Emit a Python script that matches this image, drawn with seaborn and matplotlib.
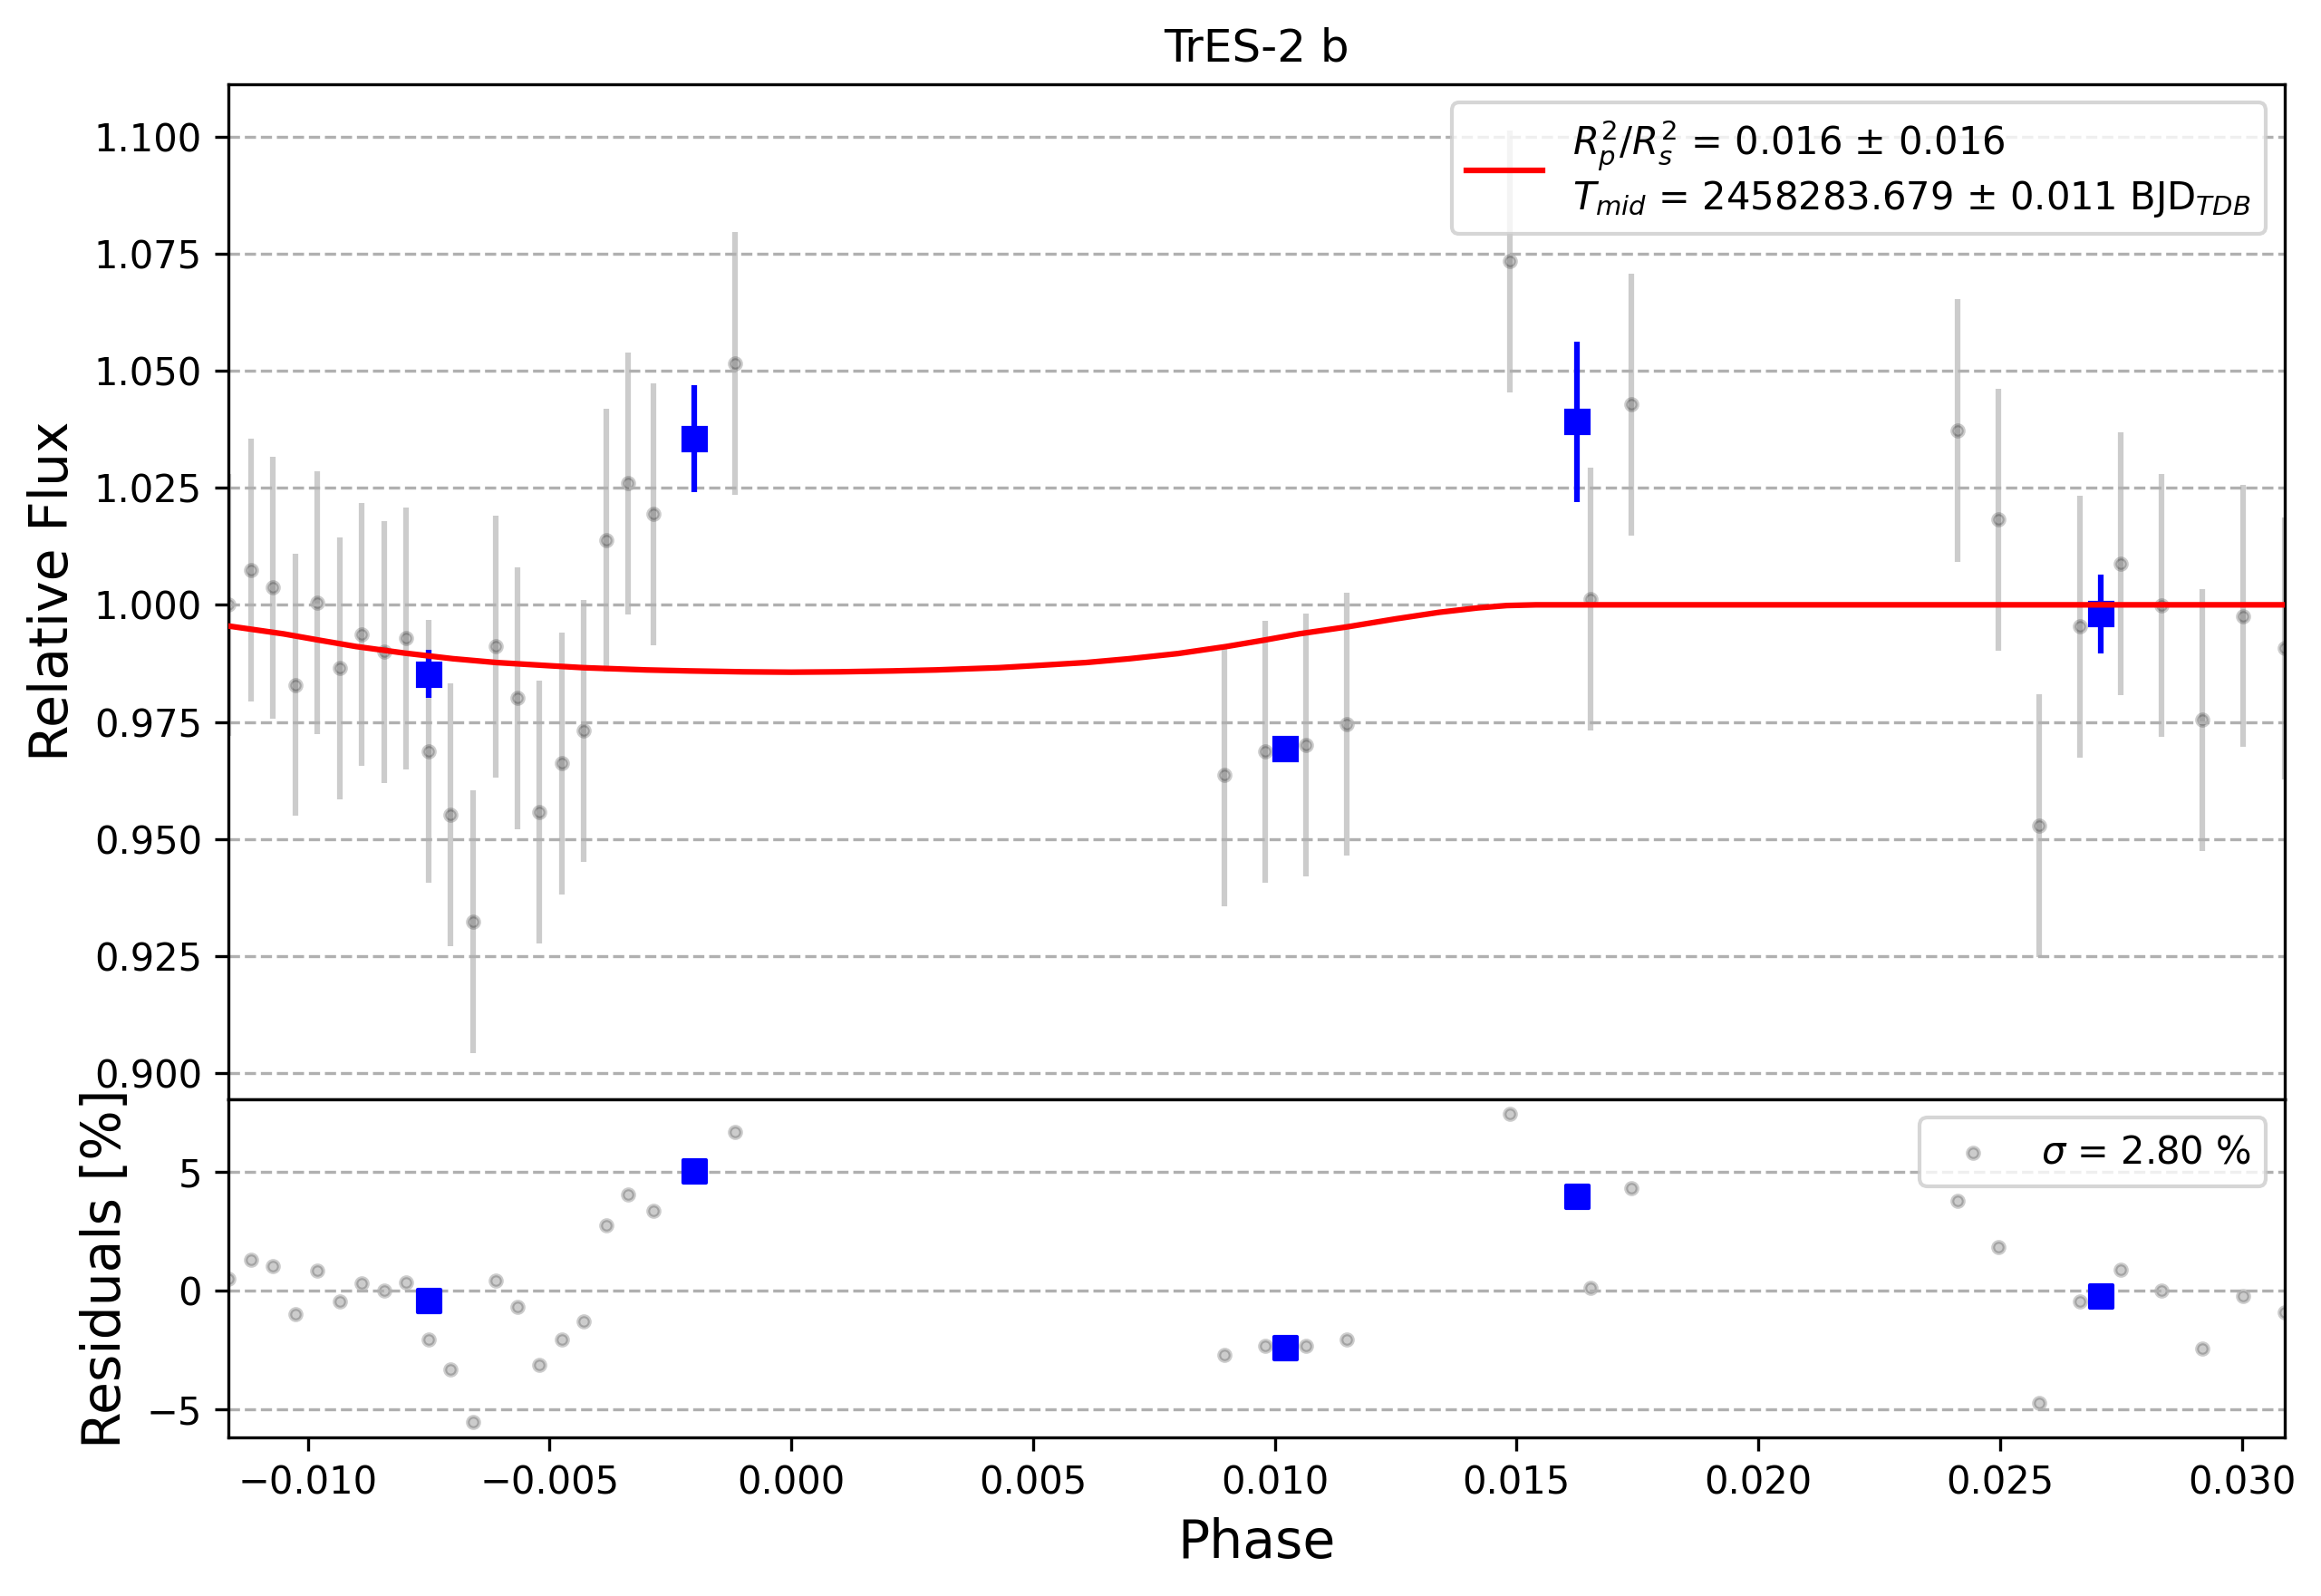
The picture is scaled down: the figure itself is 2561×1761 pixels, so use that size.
import matplotlib
matplotlib.use('Agg')
import matplotlib.pyplot as plt
import pandas as pd
import seaborn as sns

# unbinned light curve
phase = [-0.01164, -0.011175, -0.010731, -0.010262, -0.009812, -0.009344, -0.008888,
         -0.008425, -0.007969, -0.0075, -0.00705, -0.006581, -0.006113, -0.005668,
         -0.005213, -0.004749, -0.004294, -0.003831, -0.003375, -0.002856, -0.001162,
         0.008959, 0.009795, 0.010652, 0.01149, 0.014865, 0.016525, 0.017383,
         0.024128, 0.024973, 0.025819, 0.026659, 0.027505, 0.028345, 0.02919,
         0.030036, 0.03089]
flux = [1.0000, 1.00741, 1.00367, 0.98291, 1.00045, 0.98647, 0.99368,
        0.98995, 0.99285, 0.96874, 0.9552, 0.93233, 0.99111, 0.98008,
        0.95578, 0.96616, 0.97312, 1.01378, 1.02591, 1.01933, 1.05153,
        0.96365, 0.96864, 0.97011, 0.97457, 1.07332, 1.0012, 1.04277,
        1.03718, 1.01819, 0.95286, 0.99538, 1.00876, 0.99985, 0.97545,
        0.99762, 0.99072]
flux_err = [0.028, 0.028, 0.028, 0.028, 0.028, 0.028, 0.028,
            0.028, 0.028, 0.028, 0.028, 0.028, 0.028, 0.028,
            0.028, 0.028, 0.028, 0.028, 0.028, 0.028, 0.028,
            0.028, 0.028, 0.028, 0.028, 0.028, 0.028, 0.028,
            0.028, 0.028, 0.028, 0.028, 0.028, 0.028, 0.028,
            0.028, 0.028]
resid = [0.50, 1.29, 1.02, -1.00, 0.83, -0.47, 0.31,
         -0.01, 0.35, -2.05, -3.32, -5.53, 0.42, -0.70,
         -3.12, -2.05, -1.32, 2.75, 4.02, 3.36, 6.66,
         -2.72, -2.35, -2.35, -2.08, 7.41, 0.12, 4.30,
         3.75, 1.83, -4.73, -0.45, 0.88, -0.01, -2.46,
         -0.24, -0.91]

# binned points
bin_phase = [-0.0075, -0.002006, 0.010217, 0.016258, 0.027092]
bin_flux = [0.98523, 1.03542, 0.96928, 1.03906, 0.99805]
bin_err = [0.0051, 0.0114, 0.0020, 0.0171, 0.0085]
bin_resid = [-0.43, 5.01, -2.40, 3.95, -0.22]

# transit model
model_phase = [-0.01164, -0.0105, -0.0098, -0.0090, -0.0080, -0.0070, -0.0061,
               -0.0050, -0.0043, -0.0030, -0.0021, -0.0010, 0.0, 0.0010, 0.0021,
               0.0030, 0.0043, 0.0050, 0.0061, 0.0070, 0.0080, 0.0090, 0.0098,
               0.0105, 0.0115, 0.0125, 0.0134, 0.0142, 0.0148, 0.0154, 0.0200,
               0.0250, 0.03089]
model_flux = [0.99548, 0.9938, 0.99252, 0.9911, 0.9897, 0.9885, 0.98768,
              0.9870, 0.98658, 0.9861, 0.98589, 0.9857, 0.98562, 0.9857, 0.98589,
              0.9861, 0.98658, 0.9870, 0.98768, 0.9885, 0.9896, 0.9911, 0.99250,
              0.9938, 0.99530, 0.9970, 0.9984, 0.99935, 0.99985, 1.0000, 1.0000,
              1.0000, 1.0000]

planet = 'TrES-2 b'
fit_label = ('$R^{2}_{p}/R^{2}_{s}$ = 0.016 ± 0.016\n'
             '$T_{mid}$ = 2458283.679 ± 0.011 BJD$_{TDB}$')
res_label = r'$\sigma$ = 2.80 %'

df = pd.DataFrame({'phase': phase, 'flux': flux, 'err': flux_err, 'resid': resid})
df_bin = pd.DataFrame({'phase': bin_phase, 'flux': bin_flux, 'err': bin_err, 'resid': bin_resid})
df_model = pd.DataFrame({'phase': model_phase, 'flux': model_flux})

fig, (ax_lc, ax_res) = plt.subplots(2, 1, figsize=(8.54, 5.87), dpi=300, sharex=True,
                                    gridspec_kw={'height_ratios': [3, 1]})
fig.subplots_adjust(left=0.0984, right=0.9840, top=0.9474, bottom=0.0994, hspace=0)

# light curve panel
ax_lc.errorbar(df['phase'], df['flux'], yerr=df['err'], ls='none', marker='.',
               color='black', alpha=0.2, zorder=1)
ax_lc.errorbar(df_bin['phase'], df_bin['flux'], yerr=df_bin['err'], fmt='s',
               color='blue', zorder=2)
sns.lineplot(data=df_model, x='phase', y='flux', color='red', linewidth=1.5,
             sort=False, estimator=None, label=fit_label, ax=ax_lc, zorder=3)
ax_lc.set_title(planet)
ax_lc.set_ylabel('Relative Flux', fontsize=14)
ax_lc.set_xlabel('')
ax_lc.grid(True, axis='y', ls='--')
ax_lc.set_ylim(0.8945, 1.1112)
ax_lc.legend(loc='upper right')

# residual panel
sns.scatterplot(data=df, x='phase', y='resid', marker='.', s=36, color='black',
                edgecolor='black', linewidth=1.0, alpha=0.2, label=res_label,
                ax=ax_res, zorder=1)
sns.scatterplot(data=df_bin, x='phase', y='resid', marker='s', s=36, color='blue',
                edgecolor='blue', linewidth=1.0, ax=ax_res, zorder=2)
ax_res.set_xlabel('Phase', fontsize=14)
ax_res.set_ylabel('Residuals [%]', fontsize=14)
ax_res.grid(True, axis='y', ls='--')
ax_res.set_ylim(-6.18, 8.05)
ax_res.set_xlim(min(phase), max(phase))
ax_res.legend(loc='upper right')

fig.savefig('out.png', dpi=300)
